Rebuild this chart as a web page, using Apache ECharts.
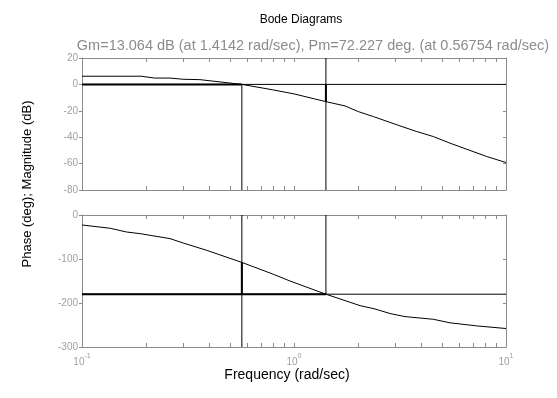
<!DOCTYPE html>
<html><head><meta charset="utf-8">
<script src="https://cdn.jsdelivr.net/npm/echarts@6/dist/echarts.min.js"></script>
<style>html,body{margin:0;padding:0;background:#fff}#c{width:557px;height:398px}</style>
</head><body><div id="c"></div>
<script>
// ---- data ----
const titleText = 'Bode Diagrams';
const subText = 'Gm=13.064 dB (at 1.4142 rad/sec), Pm=72.227 deg. (at 0.56754 rad/sec)';
const xName = 'Frequency (rad/sec)';
const yName = 'Phase (deg); Magnitude (dB)';
const gmDb = 13.064, wcg = 1.4142, pmDeg = 72.227, wcp = 0.56754;

const magW  = [0.1, 0.19, 0.22, 0.26, 0.30, 0.36, 0.56754, 0.8, 1.0, 1.4142, 1.74, 2.01, 2.37, 3.16, 3.79, 4.54, 5.44, 8.1, 10];
const magDb = [6.2, 6.2, 4.8, 4.8, 3.9, 3.6, 0, -4.2, -7.2, -13.064, -16.3, -20.6, -24.4, -31.4, -35.7, -39.5, -44.5, -54.6, -59.2];
const phW   = [0.1, 0.136, 0.162, 0.188, 0.26, 0.30, 0.387, 0.56754, 0.8, 0.957, 1.4142, 2.05, 2.41, 2.84, 3.34, 4.54, 5.44, 7.27, 10];
const phDeg = [-22.7, -30.2, -38.6, -42.4, -53.7, -63.6, -80.2, -107.773, -134.8, -150, -180, -206, -213.6, -224, -231, -237, -245, -252, -258];

const magTicks = [-80, -60, -40, -20, 0, 20];
const phTicks = [-300, -200, -100, 0];
const xMajor = [0.1, 1, 10];
// -------------------------------------

const minorTicks = [];
[0.1, 1].forEach(d => { for (let k = 1; k < 10; k++) minorTicks.push(+(d * k).toPrecision(3)); });
minorTicks.push(10);

const FF = 'Liberation Sans';
const axisGray = '#8a8a8a', labelGray = '#a0a0a0';
const W = 424, H = 132;
const grids = [
  {left: 82, top: 58, width: W, height: H},
  {left: 82, top: 215, width: W, height: H}
];

function xAx(gi, pos, showLabel) {
  const a = {
    type: 'log', logBase: 10, gridIndex: gi, position: pos, min: 0.1, max: 10,
    axisLine: {show: true, onZero: false, lineStyle: {color: axisGray, width: 1}},
    axisTick: {show: true, inside: true, length: 4, customValues: minorTicks, lineStyle: {color: axisGray}},
    splitLine: {show: false}, minorTick: {show: false},
    axisLabel: {show: false}
  };
  if (showLabel) {
    a.axisLabel = {
      show: true, customValues: xMajor, margin: 6,
      formatter: v => '{b|10}{s|' + Math.round(Math.log10(v)) + '}',
      rich: {
        b: {fontSize: 10, color: labelGray, fontFamily: FF, verticalAlign: 'bottom', lineHeight: 14},
        s: {fontSize: 7, color: labelGray, fontFamily: FF, verticalAlign: 'top', lineHeight: 14}
      }
    };
  }
  return a;
}
function yAx(gi, pos, ticks, showLabel) {
  const mn = ticks[0], mx = ticks[ticks.length - 1];
  return {
    type: 'value', gridIndex: gi, position: pos, min: mn, max: mx, interval: ticks[1] - ticks[0],
    axisLine: {show: true, onZero: false, lineStyle: {color: axisGray, width: 1}},
    axisTick: {show: true, inside: pos === 'right', length: 3, lineStyle: {color: axisGray}},
    splitLine: {show: false},
    axisLabel: {show: showLabel, fontSize: 10, color: labelGray, fontFamily: FF, margin: 4}
  };
}

function seg(xi, yi, pts, w) {
  return {type: 'line', xAxisIndex: xi, yAxisIndex: yi, data: pts, symbol: 'none', silent: true,
    lineStyle: {color: '#000', width: w}, animation: false, z: 3};
}

const magData = magW.map((w, i) => [w, magDb[i]]);
const phData = phW.map((w, i) => [w, phDeg[i]]);

const option = {
  animation: false,
  backgroundColor: '#fff',
  title: [
    {text: titleText, left: 296, top: 9, textAlign: 'center',
      textStyle: {fontSize: 12, fontWeight: 'normal', color: '#000', fontFamily: FF}},
    {text: subText, left: 308, top: 33, textAlign: 'center',
      textStyle: {fontSize: 14.5, fontWeight: 'normal', color: '#8c8c8c', fontFamily: FF}}
  ],
  graphic: [
    {type: 'text', x: 27, y: 184, rotation: Math.PI / 2,
      style: {text: yName, fontSize: 13, fill: '#000', fontFamily: FF, align: 'center', verticalAlign: 'middle'}},
    {type: 'text', x: 287, y: 375,
      style: {text: xName, fontSize: 14, fill: '#000', fontFamily: FF, align: 'center', verticalAlign: 'middle'}}
  ],
  grid: grids,
  xAxis: [xAx(0, 'bottom', false), xAx(0, 'top', false), xAx(1, 'bottom', true), xAx(1, 'top', false)],
  yAxis: [yAx(0, 'left', magTicks, true), yAx(0, 'right', magTicks, false), yAx(1, 'left', phTicks, true), yAx(1, 'right', phTicks, false)],
  series: [
    // magnitude
    seg(0, 0, magData, 1),
    seg(0, 0, [[0.1, 0], [10, 0]], 1),
    seg(0, 0, [[0.1, 0], [wcp, 0]], 2),
    seg(0, 0, [[wcp, 0], [wcp, magTicks[0]]], 1),
    seg(0, 0, [[wcg, magTicks[magTicks.length - 1]], [wcg, magTicks[0]]], 1),
    seg(0, 0, [[wcg, 0], [wcg, -gmDb]], 2),
    // phase
    seg(2, 2, phData, 1),
    seg(2, 2, [[0.1, -180], [10, -180]], 1),
    seg(2, 2, [[0.1, -180], [wcg, -180]], 2),
    seg(2, 2, [[wcp, 0], [wcp, phTicks[0]]], 1),
    seg(2, 2, [[wcp, -180], [wcp, -180 + pmDeg]], 2),
    seg(2, 2, [[wcg, 0], [wcg, -180]], 1)
  ]
};
const chart = echarts.init(document.getElementById('c'), null, {renderer: 'canvas'});
chart.setOption(option);
</script></body></html>
